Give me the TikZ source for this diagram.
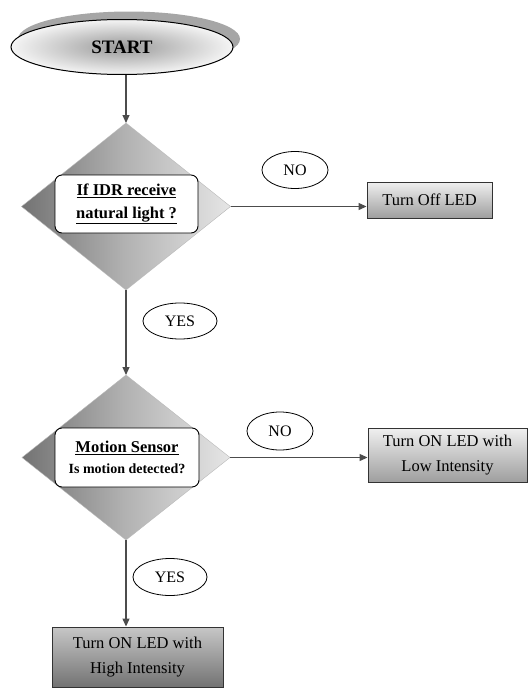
\documentclass[tikz,border=0pt]{standalone}
\usepackage{fontspec}
\setmainfont{Liberation Serif}
\usetikzlibrary{shapes.geometric,arrows.meta,shadings}
\tikzset{
  conn/.style={draw=black!70, line width=1.2pt, -{Triangle[length=8pt,width=7pt]}},
  decision/.style={diamond, inner sep=0pt, outer sep=0pt, draw=gray!55,
     left color=black!55, right color=black!10, middle color=black!30},
  innerbox/.style={rectangle, rounded corners=7pt, draw=black, line width=0.9pt, fill=white,
     align=center, inner sep=0pt, font=\bfseries},
  label/.style={ellipse, draw=black, line width=0.8pt, fill=white, inner sep=0pt, font=\fontsize{16}{18}\selectfont},
  action/.style={rectangle, draw=black!80, line width=0.9pt, align=center, inner sep=0pt,
     font=\fontsize{16.5}{25}\selectfont, top color=black!6, bottom color=black!38},
}
\begin{document}
\begin{tikzpicture}[x=1pt,y=-1pt]
\useasboundingbox (0,0) rectangle (528,688);
% START
\fill[black!35] (129,39) ellipse [x radius=111, y radius=27.5];
\node[ellipse, draw=black, line width=1pt, minimum width=222pt, minimum height=55pt,
      inner color=black!40, outer color=black!4, font=\fontsize{19}{22}\selectfont\bfseries]
      (start) at (122,47) {START};
% decision 1
\node[decision, minimum width=209pt, minimum height=167pt, aspect=1.25] (d1) at (126,206.5) {};
\node[innerbox, minimum width=143pt, minimum height=58pt, font=\fontsize{16.5}{23}\selectfont\bfseries]
      (q1) at (126.5,204) {\underline{If IDR receive}\\\underline{natural light ?}};
\node[label, minimum width=66pt, minimum height=37pt] (no1) at (295,170) {NO};
\node[action, minimum width=125pt, minimum height=36pt] (b1) at (429.5,200) {Turn Off LED};
\node[label, minimum width=74pt, minimum height=36pt] (yes1) at (180,321) {YES};
% decision 2
\node[decision, minimum width=208pt, minimum height=165pt, aspect=1.26] (d2) at (126,457.5) {};
\node[innerbox, minimum width=144pt, minimum height=59pt, font=\fontsize{16.5}{21}\selectfont\bfseries]
      (q2) at (127,457.5) {\underline{Motion Sensor}\\\fontsize{14}{21}\selectfont Is motion detected?};
\node[label, minimum width=66pt, minimum height=38pt] (no2) at (280,431) {NO};
\node[action, minimum width=159pt, minimum height=54pt] (b2) at (447.5,455) {Turn ON LED with\\Low Intensity};
\node[label, minimum width=74pt, minimum height=37pt] (yes2) at (170,577) {YES};
\node[action, minimum width=171pt, minimum height=60pt, top color=black!22, bottom color=black!55]
      (b3) at (137.5,657) {Turn ON LED with\\High Intensity};
% connectors
\draw[conn] (d1.north |- start.south) -- (d1.north);
\draw[conn] (d1.east) -- (d1.east -| b1.west);
\draw[conn] (d1.south) -- (d2.north);
\draw[conn] (d2.east) -- (d2.east -| b2.west);
\draw[conn] (d2.south) -- (d2.south |- b3.north);
\end{tikzpicture}
\end{document}
